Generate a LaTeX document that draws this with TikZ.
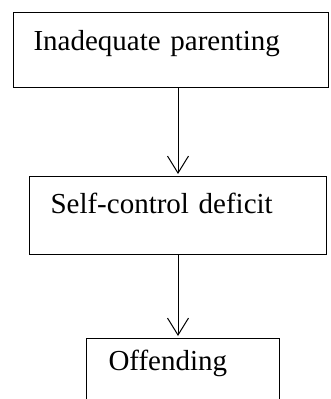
\documentclass[tikz,border=0pt]{standalone}
\usepackage{fontspec}
\setmainfont{Liberation Serif}
\usetikzlibrary{arrows.meta}
\begin{document}
\begin{tikzpicture}[x=1pt,y=-1pt,
  box/.style={draw=black, line width=1pt, rectangle, inner ysep=0pt, align=left,
    font=\fontsize{29}{34}\selectfont, anchor=north west},
  arr/.style={line width=1pt, -{Straight Barb[length=17pt,width=21pt,line width=1pt]}, shorten >=2pt}
]
\useasboundingbox (0,0) rectangle (330,399);
\clip (0,0) rectangle (330,399);
\node[box, inner xsep=20pt, text width=275pt, text height=38pt, text depth=37pt] (top) at (13,12) {Inadequate parenting};
\node[box, inner xsep=21pt, text width=255pt, text height=37pt, text depth=41pt] (mid) at (29,176) {Self-control deficit};
\node[box, inner xsep=22pt, text width=149pt, text height=32pt, text depth=60pt] (bot) at (86,338) {Offending};
\draw[arr] (top.south -| mid.north) -- (mid.north);
\draw[arr] (mid.south) -- (bot.north -| mid.south);
\end{tikzpicture}
\end{document}
